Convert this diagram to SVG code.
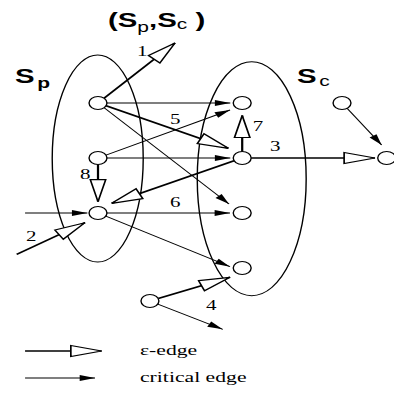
<svg xmlns="http://www.w3.org/2000/svg" width="394" height="399" viewBox="0 0 394 399">
<style>
.node{fill:#fff;stroke:#000;stroke-width:1}
.set{fill:none;stroke:#000;stroke-width:1}
.crit{fill:none;stroke:#000;stroke-width:0.9;marker-end:url(#ah)}
.eps{fill:none;stroke:#000;stroke-width:1.6;marker-end:url(#eh)}
.num{font-family:"Liberation Serif","Times New Roman",serif;font-size:15px;fill:#000}
.leg{font-family:"Liberation Serif","Times New Roman",serif;font-size:15.5px;fill:#000}
.lab{font-family:"Liberation Sans",Arial,sans-serif;font-weight:bold;font-size:21px;fill:#000}
.sub{font-size:15px}
</style>
<defs>
<marker id="eh" markerUnits="userSpaceOnUse" markerWidth="24" markerHeight="13" refX="22" refY="6" orient="auto" overflow="visible">
<path d="M0,0.5 L22,6 L0,11.5 z" fill="#fff" stroke="#000" stroke-width="1.2"/>
</marker>
<marker id="ah" markerUnits="userSpaceOnUse" markerWidth="12" markerHeight="7" refX="11" refY="3" orient="auto" overflow="visible">
<path d="M0,0 L11,3 L0,6 z" fill="#000"/>
</marker>
</defs>
<rect width="394" height="399" fill="#fff"/>
<g transform="scale(1.4,1)">
<g id="sets">
<ellipse class="set" cx="69.8" cy="158.5" rx="32.5" ry="103.5"/>
<ellipse class="set" cx="179.8" cy="178.7" rx="38.9" ry="117"/>
</g>
<g id="connectors">
<line class="eps" x1="74.3" y1="98.3" x2="125" y2="43"/>
<line class="crit" x1="76.4" y1="103" x2="164.5" y2="103"/>
<line class="eps" x1="75.8" y1="105.8" x2="163.1" y2="148.3"/>
<line class="crit" x1="74.4" y1="107.7" x2="163.6" y2="204"/>
<line class="crit" x1="75.7" y1="155.1" x2="164.3" y2="110"/>
<line class="crit" x1="76.4" y1="158" x2="164.5" y2="158"/>
<line class="eps" x1="70" y1="164.4" x2="70" y2="201.7"/>
<line class="eps" x1="173" y1="151.6" x2="173" y2="115.5"/>
<line class="eps" x1="167.2" y1="160.8" x2="79.8" y2="203.3"/>
<line class="eps" x1="179.4" y1="158" x2="267.8" y2="158"/>
<line class="crit" x1="247.9" y1="108.3" x2="272.6" y2="145"/>
<line class="crit" x1="76.4" y1="213" x2="164.3" y2="213"/>
<line class="crit" x1="75.6" y1="216.2" x2="164.3" y2="266.7"/>
<line class="crit" x1="17.9" y1="213" x2="62.4" y2="213"/>
<line class="eps" x1="11.9" y1="254.3" x2="60.7" y2="222.7"/>
<line class="eps" x1="113" y1="298.5" x2="164.3" y2="277.3"/>
<line class="crit" x1="112.7" y1="304.1" x2="159.1" y2="329.3"/>
</g>
<g id="A"><circle class="node" cx="70" cy="103" r="6.4"/></g>
<g id="B"><circle class="node" cx="70" cy="158" r="6.4"/></g>
<g id="C"><circle class="node" cx="70" cy="213" r="6.4"/></g>
<g id="D"><circle class="node" cx="173" cy="103" r="6.4"/></g>
<g id="E"><circle class="node" cx="173" cy="158" r="6.4"/></g>
<g id="F"><circle class="node" cx="173" cy="213" r="6.4"/></g>
<g id="G"><circle class="node" cx="173" cy="268" r="6.4"/></g>
<g id="H"><circle class="node" cx="244.3" cy="103" r="6.4"/></g>
<g id="I"><circle class="node" cx="276.2" cy="158" r="6.4"/></g>
<g id="J"><circle class="node" cx="107.1" cy="301" r="6.4"/></g>
<g id="edge-labels">
<text class="num" x="97.9" y="56">1</text>
<text class="num" x="121.4" y="124">5</text>
<text class="num" x="180.5" y="131">7</text>
<text class="num" x="192.9" y="151">3</text>
<text class="num" x="57.1" y="179">8</text>
<text class="num" x="121.4" y="207">6</text>
<text class="num" x="18.6" y="241">2</text>
<text class="num" x="147.1" y="310">4</text>
</g>
<g id="titles">
<text class="lab" x="77.1" y="27">(S<tspan class="sub" font-weight="normal" dy="5">p</tspan><tspan dy="-5">,S</tspan><tspan class="sub" font-weight="normal" dy="2">c</tspan><tspan dy="-2"> )</tspan></text>
<text class="lab" x="10.7" y="83">S<tspan class="sub" dx="2" dy="5">p</tspan></text>
<text class="lab" x="212.1" y="83">S<tspan class="sub" font-weight="normal" dx="2" dy="3">c</tspan></text>
</g>
<g id="legend">
<line class="eps" x1="17.9" y1="351" x2="72.6" y2="351"/>
<line class="crit" x1="17.9" y1="378" x2="67.9" y2="378"/>
<text class="leg" x="100" y="355">ε-edge</text>
<text class="leg" x="100" y="382">critical edge</text>
</g>
</g>
</svg>
